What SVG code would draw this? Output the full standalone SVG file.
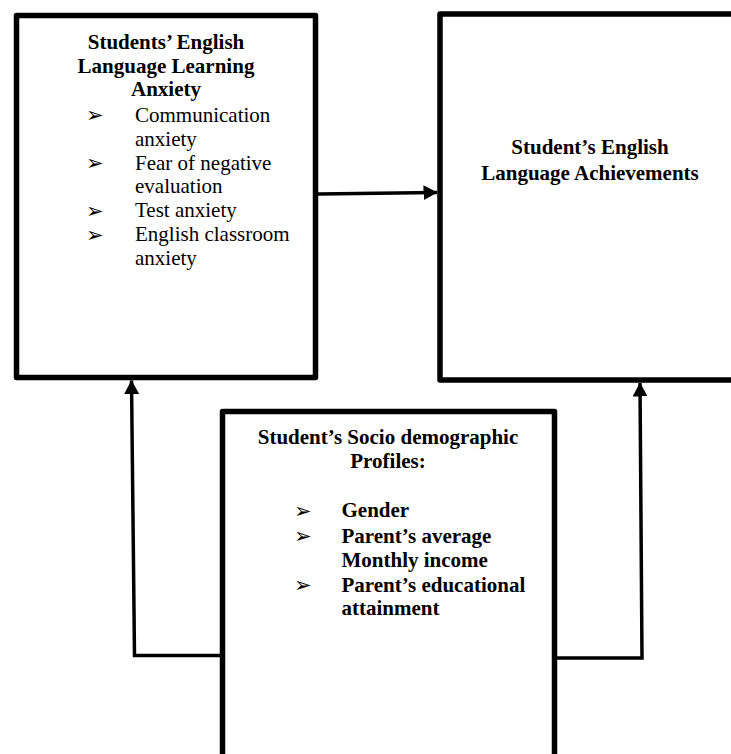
<svg xmlns="http://www.w3.org/2000/svg" width="731" height="754" viewBox="0 0 731 754">
  <style>
    .box { fill: #ffffff; stroke: #000000; stroke-width: 5.5; stroke-linejoin: round; }
    .conn { fill: none; stroke: #000000; stroke-width: 3.5; stroke-linejoin: miter; }
    .t { font-family: "Liberation Serif", "Times New Roman", serif; font-size: 21px; fill: #000000; }
    .b { font-weight: bold; }
    .c { text-anchor: middle; }
    .bul { font-family: "DejaVu Sans", sans-serif; font-size: 21px; fill: #000000; }
  </style>
  <defs>
    <marker id="arrow" markerUnits="userSpaceOnUse" markerWidth="14" markerHeight="15" refX="13.5" refY="7.5" orient="auto" viewBox="0 0 14 15">
      <path d="M0,0 L14,7.5 L0,15 z" fill="#000000"/>
    </marker>
  </defs>

  <g id="node-anxiety">
    <rect class="box" x="16.5" y="15.5" width="299" height="362"/>
    <text class="t b c" x="166" y="49">Students’ English</text>
    <text class="t b c" x="166" y="72.5">Language Learning</text>
    <text class="t b c" x="166" y="96">Anxiety</text>
    <text class="bul" x="86" y="122">➢</text>
    <text class="t" x="135" y="121.5">Communication</text>
    <text class="t" x="135" y="145.5">anxiety</text>
    <text class="bul" x="86" y="170">➢</text>
    <text class="t" x="135" y="169.5">Fear of negative</text>
    <text class="t" x="135" y="193">evaluation</text>
    <text class="bul" x="86" y="217.5">➢</text>
    <text class="t" x="135" y="217">Test anxiety</text>
    <text class="bul" x="86" y="241.5">➢</text>
    <text class="t" x="135" y="241">English classroom</text>
    <text class="t" x="135" y="265">anxiety</text>
  </g>

  <g id="node-achievements">
    <rect class="box" x="440" y="14" width="300" height="366"/>
    <text class="t b c" x="590" y="154">Student’s English</text>
    <text class="t b c" x="590" y="179.5">Language Achievements</text>
  </g>

  <g id="node-profiles">
    <rect class="box" x="222.5" y="411.5" width="332" height="360"/>
    <text class="t b c" x="388" y="444">Student’s Socio demographic</text>
    <text class="t b c" x="388" y="468">Profiles:</text>
    <text class="bul" x="294" y="517.5">➢</text>
    <text class="t b" x="341.5" y="517">Gender</text>
    <text class="bul" x="294" y="543">➢</text>
    <text class="t b" x="341.5" y="542.5">Parent’s average</text>
    <text class="t b" x="341.5" y="566.5">Monthly income</text>
    <text class="bul" x="294" y="592">➢</text>
    <text class="t b" x="341.5" y="591.5">Parent’s educational</text>
    <text class="t b" x="341.5" y="615">attainment</text>
  </g>

  <g id="connectors">
    <path class="conn" d="M318,194 L437,192.5" marker-end="url(#arrow)"/>
    <path class="conn" d="M220,655.5 L134.5,655.5 L131.5,380.5" marker-end="url(#arrow)"/>
    <path class="conn" d="M557,658 L642,658 L640,383" marker-end="url(#arrow)"/>
  </g>
</svg>
